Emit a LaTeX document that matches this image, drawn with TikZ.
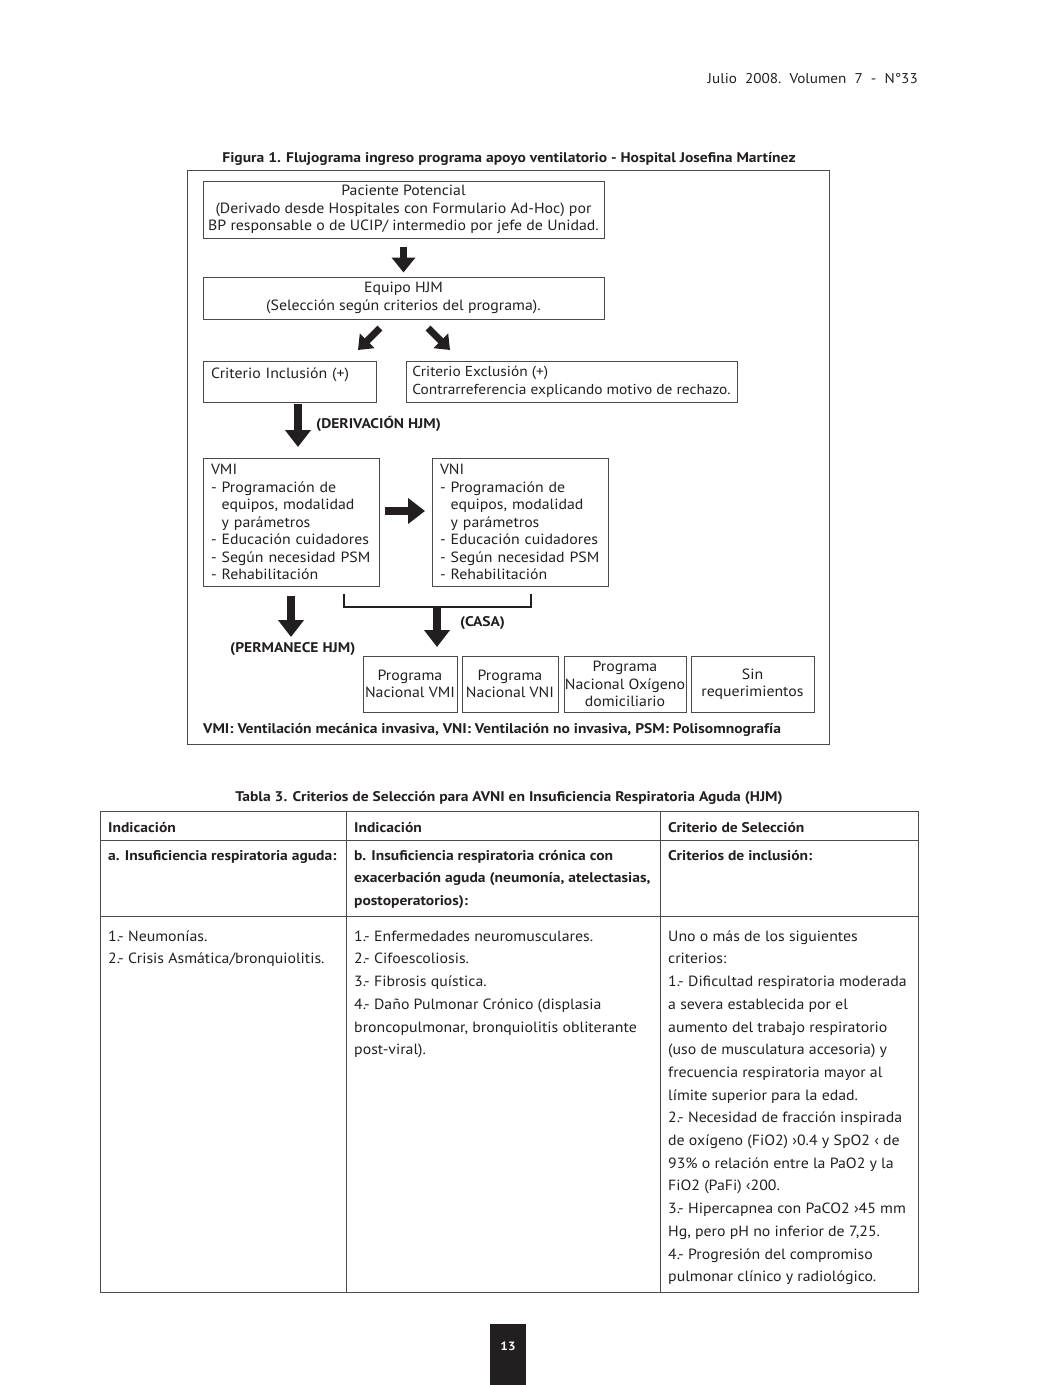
\documentclass[tikz,border=0pt]{standalone}
\usepackage{fontspec}
\setmainfont[FakeStretch=1.07, BoldFeatures={FakeStretch=1.11}]{PT Sans}
\usetikzlibrary{arrows.meta}
\definecolor{ink}{HTML}{231F20}
\definecolor{rulec}{HTML}{4A4A4A}
\newcommand\firstl{\rule{0pt}{12pt}}
\begin{document}
\begin{tikzpicture}[x=1pt,y=-1pt,
  every node/.style={text=ink},
  bx/.style={draw=rulec, line width=1pt, inner sep=0pt, font=\fontsize{14.8}{17.5}\selectfont},
  lbl/.style={inner sep=0pt, font=\bfseries\fontsize{14}{17}\selectfont},
  tcell/.style={inner sep=0pt, anchor=north west, align=left, font=\fontsize{14.8}{22.7}\selectfont},
  bigarrow/.style={draw=ink, line width=7pt, -{Triangle[width=23pt,length=15pt]}},
  fatarrow/.style={draw=ink, line width=8pt, -{Triangle[width=25pt,length=17pt]}},
  diagarrow/.style={draw=ink, line width=7pt, -{Triangle[width=20pt,length=13pt]}},
  tline/.style={draw=rulec, line width=1pt}]
\useasboundingbox (0,0) rectangle (1041,1385);

% header
\node[anchor=base east, inner sep=0pt, font=\fontsize{14.2}{18}\selectfont] (hdr) at (918,83) {Julio\ \ 2008.\ \ Volumen\ \ 7\ \ -\ \ N°33};

% figure title and frame
\node[lbl, anchor=base] (ftitle) at (509,162) {Figura 1. Flujograma ingreso programa apoyo ventilatorio - Hospital Josefina Martínez};
\node[draw=rulec, line width=1pt, minimum width=642pt, minimum height=574pt, inner sep=0pt] (frame) at (508,457) {};

% boxes
\node[bx, minimum width=401pt, minimum height=57pt, align=center] (pac) at (403.5,209.5)
  {Paciente Potencial\\(Derivado desde Hospitales con Formulario Ad-Hoc) por\\BP responsable o de UCIP/ intermedio por jefe de Unidad.};
\node[bx, minimum width=401pt, minimum height=42pt, align=center] (equipo) at (403.5,298)
  {Equipo HJM\\(Selección según criterios del programa).};
\node[bx, text width=157pt, inner xsep=8pt, minimum height=41pt, align=left] (incl) at (289.5,381.5)
  {Criterio Inclusión (+)\\\mbox{}};
\node[bx, minimum width=331pt, minimum height=41pt, align=left, font=\fontsize{14.4}{17.5}\selectfont] (excl) at (571.5,381.5)
  {Criterio Exclusión (+)\\Contrarreferencia explicando motivo de rechazo.};
\node[bx, text width=160pt, inner xsep=8pt, minimum height=128pt, align=left] (vmi) at (291,522)
  {VMI\\- Programación de\\\phantom{- }equipos, modalidad\\\phantom{- }y parámetros\\- Educación cuidadores\\- Según necesidad PSM\\- Rehabilitación};
\node[bx, text width=160pt, inner xsep=8pt, minimum height=128pt, align=left] (vni) at (520,522)
  {VNI\\- Programación de\\\phantom{- }equipos, modalidad\\\phantom{- }y parámetros\\- Educación cuidadores\\- Según necesidad PSM\\- Rehabilitación};

\node[bx, minimum width=94pt, minimum height=56pt, align=center] (pvmi) at (410,684) {Programa\\Nacional VMI};
\node[bx, minimum width=96pt, minimum height=56pt, align=center] (pvni) at (510,684) {Programa\\Nacional VNI};
\node[bx, minimum width=122pt, minimum height=56pt, align=center] (poxi) at (625,684) {Programa\\Nacional Oxígeno\\domiciliario};
\node[bx, minimum width=123pt, minimum height=56pt, align=center] (sinr) at (752.5,684) {Sin\\requerimientos};

% arrows
\draw[bigarrow, shorten <=8pt, shorten >=4pt] (pac.south) -- (equipo.north);
\coordinate (dls) at (380,328);
\coordinate (dle) at (358,350);
\coordinate (drs) at (428,328);
\coordinate (dre) at (450,350);
\draw[diagarrow] (dls) -- (dle);
\draw[diagarrow] (drs) -- (dre);

\coordinate (derS) at (298,404);
\coordinate (derE) at (298,447);
\draw[fatarrow] (derS) -- (derE);
\node[lbl, anchor=west] (deriv) at (316,424) {(DERIVACIÓN HJM)};

\coordinate (rS) at (385,511);
\coordinate (rE) at (425,511);
\draw[fatarrow] (rS) -- (rE);

\coordinate (bl) at (344,594);
\coordinate (br) at (531,594);
\coordinate (bm) at (437,607);
\coordinate (casaE) at (437,647);
\draw[draw=ink, line width=1.5pt] (bl) |- (bm) -| (br);
\draw[fatarrow] (bm) -- (casaE);
\node[lbl, anchor=west] (casa) at (460,623) {(CASA)};

\coordinate (permS) at (291,596);
\coordinate (permE) at (291,637);
\draw[fatarrow] (permS) -- (permE);
\node[lbl, anchor=west] (perm) at (230,649) {(PERMANECE HJM)};

\node[lbl, anchor=west] (foot) at (203,730) {VMI: Ventilación mecánica invasiva, VNI: Ventilación no invasiva, PSM: Polisomnografía};

% table
\node[lbl, anchor=base] (ttitle) at (509,801) {Tabla 3. Criterios de Selección para AVNI en Insuficiencia Respiratoria Aguda (HJM)};
\draw[tline] (100,811) rectangle (918,1292);
\draw[tline] (346,811) -- (346,1292);
\draw[tline] (660,811) -- (660,1292);
\draw[tline] (100,840) -- (918,840);
\draw[tline] (100,916) -- (918,916);

\node[tcell, font=\bfseries\fontsize{14}{22.7}\selectfont] (h1) at (108,820) {\firstl Indicación};
\node[tcell, font=\bfseries\fontsize{14}{22.7}\selectfont] (h2) at (354,820) {\firstl Indicación};
\node[tcell, font=\bfseries\fontsize{14}{22.7}\selectfont] (h3) at (668,820) {\firstl Criterio de Selección};

\node[tcell, font=\bfseries\fontsize{14}{22.7}\selectfont] (a1) at (108,848) {\firstl a. Insuficiencia respiratoria aguda:};
\node[tcell, font=\bfseries\fontsize{14}{22.7}\selectfont] (a2) at (354,848) {\firstl b. Insuficiencia respiratoria crónica con\\exacerbación aguda (neumonía, atelectasias,\\postoperatorios):};
\node[tcell, font=\bfseries\fontsize{14}{22.7}\selectfont] (a3) at (668,848) {\firstl Criterios de inclusión:};

\node[tcell] (c1) at (108,929) {\firstl 1.- Neumonías.\\2.- Crisis Asmática/bronquiolitis.};
\node[tcell] (c2) at (354,929) {\firstl 1.- Enfermedades neuromusculares.\\2.- Cifoescoliosis.\\3.- Fibrosis quística.\\4.- Daño Pulmonar Crónico (displasia\\broncopulmonar, bronquiolitis obliterante\\post-viral).};
\node[tcell] (c3) at (668,929) {\firstl Uno o más de los siguientes\\criterios:\\1.- Dificultad respiratoria moderada\\a severa establecida por el\\aumento del trabajo respiratorio\\(uso de musculatura accesoria) y\\frecuencia respiratoria mayor al\\límite superior para la edad.\\2.- Necesidad de fracción inspirada\\de oxígeno (FiO2) ›0.4 y SpO2 ‹ de\\93\% o relación entre la PaO2 y la\\FiO2 (PaFi) ‹200.\\3.- Hipercapnea con PaCO2 ›45 mm\\Hg, pero pH no inferior de 7,25.\\4.- Progresión del compromiso\\pulmonar clínico y radiológico.};

% page number
\node[fill=ink, minimum width=36pt, minimum height=61pt, inner sep=0pt] (pgbox) at (508,1354.5) {};
\node[inner sep=0pt, text=white, font=\bfseries\fontsize{12}{14}\selectfont] (pgnum) at (508,1346) {13};
\end{tikzpicture}
\end{document}
